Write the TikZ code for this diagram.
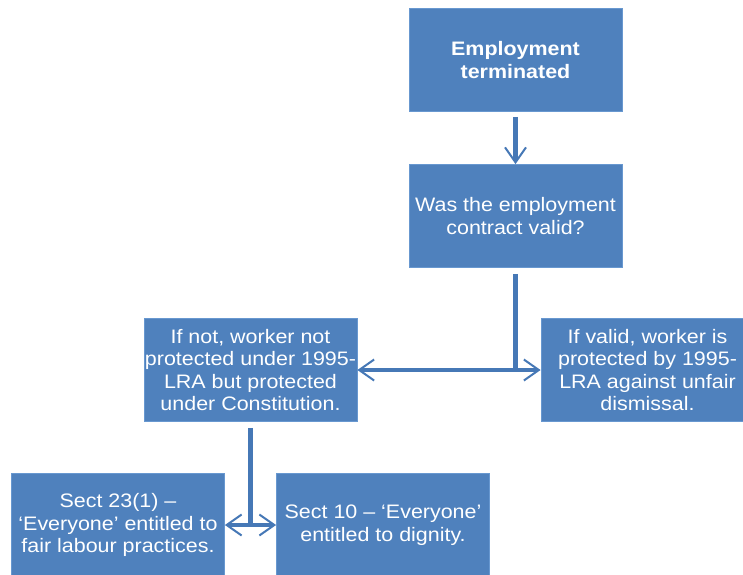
\documentclass[tikz,border=0pt]{standalone}
\usepackage{fontspec}
\setmainfont{Liberation Sans}
\newfontfamily\boxfont[FakeStretch=1.1,Ligatures=TeX]{Liberation Sans}
\usetikzlibrary{arrows.meta}
\definecolor{boxblue}{RGB}{79,129,189}
\definecolor{edgeblue}{RGB}{104,152,208}
\definecolor{lineblue}{RGB}{70,120,182}
\tikzset{
  stepbox/.style={rectangle, fill=boxblue, draw=edgeblue, line width=0.8pt,
    text=white, minimum width=213pt, minimum height=103pt, inner sep=0pt,
    align=center, font=\boxfont\fontsize{19.5}{22.5}\selectfont},
  link/.style={draw=lineblue, line width=4.5pt},
  flow/.style={link, -{Straight Barb[length=15pt,width=21pt,line width=2pt 0]}},
  twoway/.style={link, {Straight Barb[length=15pt,width=21pt,line width=2pt 0]}-{Straight Barb[length=15pt,width=21pt,line width=2pt 0]}}
}
\begin{document}
\begin{tikzpicture}[x=1pt,y=-1pt]
\useasboundingbox (0,0) rectangle (743,574);
\node[stepbox,font=\boxfont\fontsize{19.5}{23}\selectfont\bfseries] (ended) at (515.5,60) {Employment\\terminated};
\node[stepbox] (valid) at (515.5,216) {Was the employment\\contract valid?};
\node[stepbox] (notvalid) at (250.5,370) {If not, worker not\\protected under 1995-\\LRA but protected\\under Constitution.};
\node[stepbox] (isvalid) at (647.5,370) {If valid, worker is\\protected by 1995-\\LRA against unfair\\dismissal.};
\node[stepbox] (sect23) at (118,525) {Sect 23(1) --\\`Everyone' entitled to\\fair labour practices.};
\node[stepbox] (sect10) at (383,525) {Sect 10 -- `Everyone'\\entitled to dignity.};
\draw[flow] ([yshift=-5pt]ended.south) -- (valid.north);
\draw[link] ([yshift=-6pt]valid.south) -- (valid.south |- notvalid.east);
\draw[twoway] (notvalid.east) -- (isvalid.west);
\draw[link] ([yshift=-6pt]notvalid.south) -- (notvalid.south |- sect23.east);
\draw[twoway] (sect23.east) -- (sect10.west);
\end{tikzpicture}
\end{document}
